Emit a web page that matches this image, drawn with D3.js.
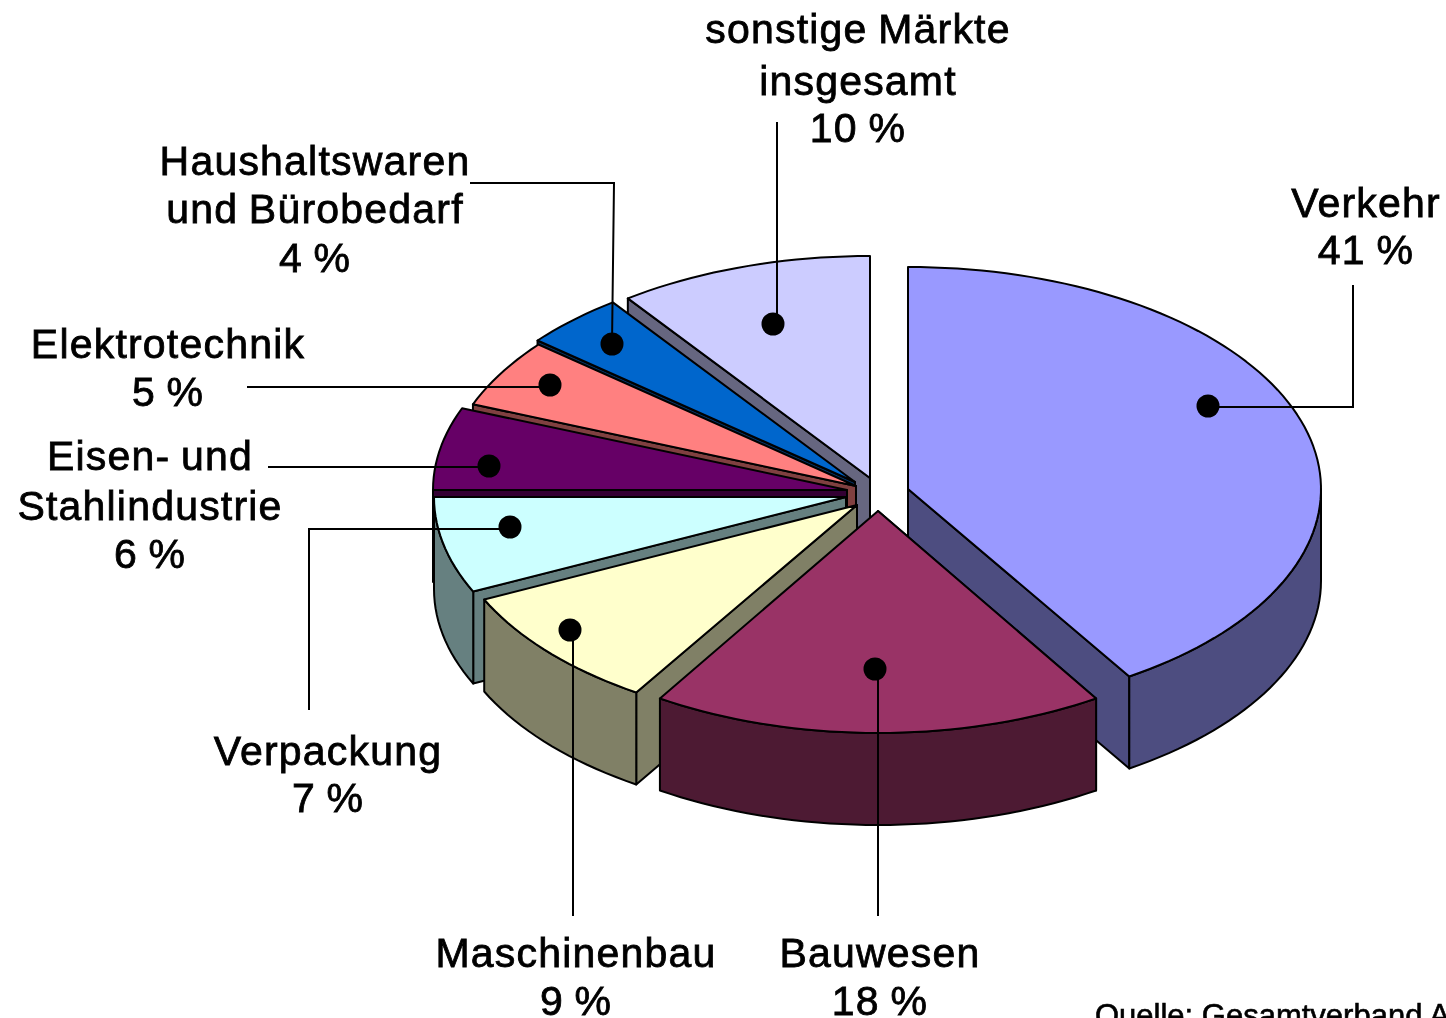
<!DOCTYPE html>
<html><head><meta charset="utf-8">
<script src="https://cdn.jsdelivr.net/npm/d3@7"></script>
<style>html,body{margin:0;background:#fff;overflow:hidden}svg{display:block;filter:blur(0.55px)}</style>
</head><body><svg id="c" width="1446" height="1018"></svg>
<script>
// DATA
const categories=["Verkehr","Bauwesen","Maschinenbau","Verpackung","Eisen- und Stahlindustrie","Elektrotechnik","Haushaltswaren und Bürobedarf","sonstige Märkte insgesamt"];
const shares=[41,18,9,7,6,5,4,10];
const topColors=["#9999FF","#993366","#FFFFCC","#CCFFFF","#660066","#FF8080","#0066CC","#CCCCFF"];
const sideColors=["#4D4D80","#4D1A33","#808066","#668080","#330033","#804040","#003366","#666680"];
// LAYOUT (explosion centres, annotations)
const apexX=[908,878,857,846,847,856,855,870];
const apexY=[489,511,505,497,490,486,482,478];
const radiiX=[413,407,412,412,414,412,412,412];
const paintOrder=[7,6,5,4,3,2,0,1];
const ry=222, depth=92;
const dotPos=[[1208,406],[875,669],[570,630],[510,527],[489,466],[550,385],[612,344],[773,324]];
const leaders=[
 [[1208,407],[1353,407],[1353,285]],
 [[878,669],[878,916]],
 [[573,630],[573,916]],
 [[510,529],[309,529],[309,710]],
 [[489,467],[268,467]],
 [[550,387],[247,387]],
 [[612,344],[614,183],[470,183]],
 [[777,324],[777,122]]];
const labelLines=[["Verkehr","41 %"],["Bauwesen","18 %"],["Maschinenbau","9 %"],["Verpackung","7 %"],["Eisen- und","Stahlindustrie","6 %"],["Elektrotechnik","5 %"],["Haushaltswaren","und Bürobedarf","4 %"],["sonstige Märkte","insgesamt","10 %"]];
const labelX=[1366,880,576,328,150,168,315,858];
const labelY=[[217,264],[967,1015],[967,1015],[765,812],[470,520,568],[358,406],[175,223,272],[43,95,142]];
const sourceText="Quelle: Gesamtverband A";

const svg=d3.select("#c");
const arcs=d3.pie().sort(null)(shares);
const line=d3.line();
const proj=(i,a,dy=0)=>[apexX[i]+radiiX[i]*Math.sin(a),apexY[i]-ry*Math.cos(a)+dy];
const sample=(a0,a1)=>{const n=Math.max(2,Math.ceil(Math.abs(a1-a0)/0.03));return d3.range(n+1).map(k=>a0+(a1-a0)*k/n);};
const pie3=svg.append("g").attr("stroke","#000").attr("stroke-width",2).attr("stroke-linejoin","round");
paintOrder.forEach(i=>{
  const {startAngle:s,endAngle:e}=arcs[i];
  const g=pie3.append("g");
  const apex=[apexX[i],apexY[i]];
  // radial wall facing the viewer
  const a=(e<=Math.PI)?e:s;
  const r=proj(i,a);
  g.append("path").attr("fill",sideColors[i]).attr("d",line([apex,r,[r[0],r[1]+depth],[apex[0],apex[1]+depth]])+"Z");
  // outer wall: only the part of the rim facing the viewer
  const a0=Math.max(s,Math.PI/2), a1=Math.min(e,Math.PI*1.5);
  if(a1>a0){
    const as=sample(a0,a1);
    g.append("path").attr("fill",sideColors[i]).attr("d",line(as.map(v=>proj(i,v)).concat(as.slice().reverse().map(v=>proj(i,v,depth))))+"Z");
  }
  // top face
  g.append("path").attr("fill",topColors[i]).attr("d",line([apex].concat(sample(s,e).map(v=>proj(i,v))))+"Z");
});
svg.append("g").attr("fill","none").attr("stroke","#000").attr("stroke-width",2)
  .selectAll("path").data(leaders).join("path").attr("d",d=>line(d));
svg.append("g").selectAll("circle").data(dotPos).join("circle")
  .attr("cx",d=>d[0]).attr("cy",d=>d[1]).attr("r",11.5).attr("fill","#000");
const t=svg.append("g").attr("font-family","'Liberation Sans',Arial,sans-serif").attr("font-size",41).attr("letter-spacing",1.2).attr("word-spacing",-2).attr("fill","#000").attr("stroke","#000").attr("stroke-width",0.8).attr("text-anchor","middle");
categories.forEach((c,i)=>{
  labelLines[i].forEach((l,k)=>{t.append("text").attr("x",labelX[i]).attr("y",labelY[i][k]).text(l);});
});
svg.append("text").attr("x",1095).attr("y",1026).attr("font-family","'Liberation Sans',Arial,sans-serif").attr("font-size",31).attr("fill","#000").attr("stroke","#000").attr("stroke-width",0.6).text(sourceText);
</script></body></html>
